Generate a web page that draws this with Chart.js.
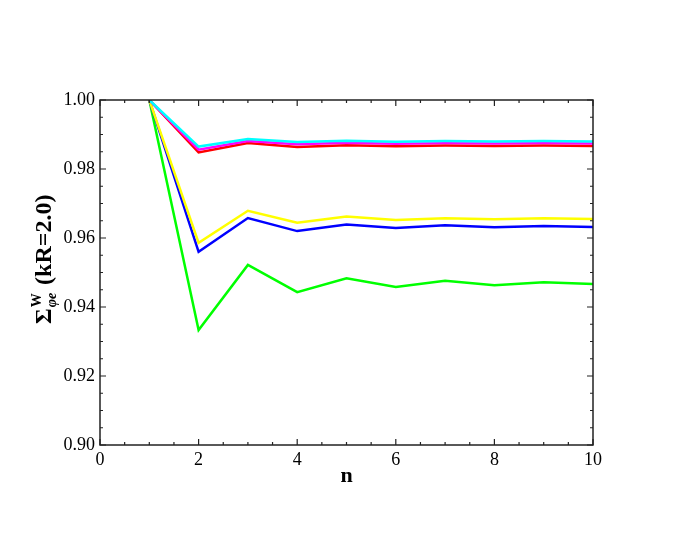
<!DOCTYPE html>
<html>
<head>
  <meta charset="UTF-8" />
  <title>Sigma W phi e</title>
  <script src="https://cdn.jsdelivr.net/npm/chart.js"></script>
  <style>
    body { margin: 0; background: #fff; }
    canvas { display: block; }
  </style>
</head>
<body>
  <canvas id="chart" width="692" height="544"></canvas>

  <script>
    // values
    const nValues = [1, 2, 3, 4, 5, 6, 7, 8, 9, 10];
    const cyanLine    = [1.0, 0.9865, 0.9887, 0.9878, 0.9882, 0.9879, 0.9881, 0.9880, 0.9881, 0.9880];
    const magentaLine = [1.0, 0.9856, 0.9881, 0.9872, 0.9876, 0.9873, 0.9875, 0.9874, 0.9875, 0.9874];
    const redLine     = [1.0, 0.9848, 0.9875, 0.9864, 0.9869, 0.9866, 0.9868, 0.9867, 0.9868, 0.9867];
    const yellowLine  = [1.0, 0.9586, 0.9679, 0.9644, 0.9662, 0.9652, 0.9657, 0.9654, 0.9657, 0.9655];
    const blueLine    = [1.0, 0.9560, 0.9658, 0.9620, 0.9639, 0.9629, 0.9637, 0.9631, 0.9635, 0.9632];
    const greenLine   = [1.0, 0.9333, 0.9522, 0.9443, 0.9483, 0.9458, 0.9476, 0.9463, 0.9472, 0.9467];

    const xTicks = [0, 2, 4, 6, 8, 10];
    const yTicks = [0.90, 0.92, 0.94, 0.96, 0.98, 1.00];

    const SERIF = "'Liberation Serif', 'Times New Roman', serif";

    function pts(arr) {
      return arr.map((v, i) => ({ x: nValues[i], y: v }));
    }

    function series(data, color) {
      return {
        data: pts(data),
        borderColor: color,
        borderWidth: 2.5,
        pointRadius: 0,
        fill: false,
        tension: 0
      };
    }

    // frame, inward ticks and the axis titles
    const framePlugin = {
      id: 'frame',
      afterDraw(chart) {
        const ctx = chart.ctx;
        const a = chart.chartArea;
        const xs = chart.scales.x, ys = chart.scales.y;
        ctx.save();
        ctx.strokeStyle = '#222';
        ctx.lineWidth = 1.5;
        ctx.strokeRect(a.left, a.top, a.right - a.left, a.bottom - a.top);

        ctx.lineWidth = 1.2;
        ctx.beginPath();
        for (let i = 0; i <= 20; i++) {
          const v = i * 0.5;
          const px = xs.getPixelForValue(v);
          const len = (v % 2 === 0) ? 6 : 3;
          ctx.moveTo(px, a.bottom); ctx.lineTo(px, a.bottom - len);
          ctx.moveTo(px, a.top); ctx.lineTo(px, a.top + len);
        }
        for (let i = 0; i <= 20; i++) {
          const v = 0.9 + i * 0.005;
          const py = ys.getPixelForValue(v);
          const len = (i % 4 === 0) ? 6 : 3;
          ctx.moveTo(a.left, py); ctx.lineTo(a.left + len, py);
          ctx.moveTo(a.right, py); ctx.lineTo(a.right - len, py);
        }
        ctx.stroke();

        // x title
        ctx.fillStyle = '#000';
        ctx.font = 'bold 22px ' + SERIF;
        ctx.textAlign = 'center';
        ctx.textBaseline = 'alphabetic';
        ctx.fillText('n', (a.left + a.right) / 2, 482);

        // y title with sub/superscript
        ctx.translate(51, 324);
        ctx.rotate(-Math.PI / 2);
        ctx.textAlign = 'left';
        let x = 0;
        ctx.font = 'bold 24px ' + SERIF;
        ctx.fillText('\u03A3', x, 0);
        x += ctx.measureText('\u03A3').width + 1;
        ctx.font = 'italic bold 14px ' + SERIF;
        ctx.fillText('\u03C6e', x, 5);
        const subW = ctx.measureText('\u03C6e').width;
        ctx.font = 'bold 14px ' + SERIF;
        ctx.fillText('W', x, -10);
        const supW = ctx.measureText('W').width;
        x += Math.max(subW, supW) + 2;
        ctx.font = 'bold 24px ' + SERIF;
        ctx.fillText(' (kR=2.0)', x, 0);
        ctx.restore();
      }
    };

    new Chart(document.getElementById('chart'), {
      type: 'line',
      data: {
        datasets: [
          series(cyanLine, '#00ffff'),
          series(magentaLine, '#ff00ff'),
          series(redLine, '#ff0000'),
          series(yellowLine, '#ffff00'),
          series(blueLine, '#0000ff'),
          series(greenLine, '#00ff00')
        ]
      },
      options: {
        responsive: false,
        animation: false,
        devicePixelRatio: 1,
        layout: { padding: { left: 0, top: 100, right: 99, bottom: 0 } },
        plugins: { legend: { display: false }, tooltip: { enabled: false } },
        scales: {
          x: {
            type: 'linear',
            min: 0, max: 10,
            afterBuildTicks(scale) { scale.ticks = xTicks.map(v => ({ value: v })); },
            afterFit(scale) { scale.height = 99; },
            grid: { display: false, drawTicks: false },
            border: { display: false },
            ticks: {
              color: '#000',
              padding: 4,
              maxRotation: 0,
              autoSkip: false,
              font: { family: SERIF, size: 18 },
              callback: v => String(v)
            }
          },
          y: {
            type: 'linear',
            min: 0.9, max: 1.0,
            afterBuildTicks(scale) { scale.ticks = yTicks.map(v => ({ value: v })); },
            afterFit(scale) { scale.width = 100; },
            grid: { display: false, drawTicks: false },
            border: { display: false },
            ticks: {
              color: '#000',
              padding: 5,
              autoSkip: false,
              font: { family: SERIF, size: 18 },
              callback: v => Number(v).toFixed(2)
            }
          }
        }
      },
      plugins: [framePlugin]
    });
  </script>
</body>
</html>
